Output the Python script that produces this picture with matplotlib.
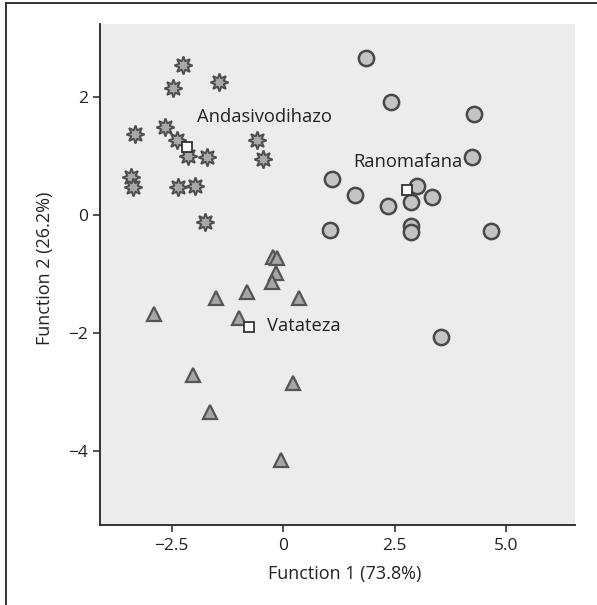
import matplotlib
matplotlib.use("Agg")
import matplotlib.pyplot as plt
from matplotlib.lines import Line2D

# discriminant scores per site (Function 1, Function 2)
andasivodihazo_x = [-2.24, -1.44, -2.47, -3.33, -2.65, -2.39, -2.13, -1.71, -0.58,
                    -0.45, -3.42, -3.38, -2.35, -1.97, -1.76]
andasivodihazo_y = [2.54, 2.26, 2.15, 1.38, 1.49, 1.27, 1.00, 0.98, 1.27,
                    0.95, 0.65, 0.47, 0.48, 0.50, -0.11]

ranomafana_x = [1.85, 2.42, 4.29, 4.24, 1.09, 1.61, 3.01, 3.33, 2.87, 2.35,
                1.05, 2.87, 2.87, 4.66, 3.55]
ranomafana_y = [2.67, 1.92, 1.71, 0.98, 0.61, 0.34, 0.50, 0.31, 0.22, 0.15,
                -0.25, -0.18, -0.28, -0.27, -2.06]

vatateza_x = [-0.22, -0.13, -0.17, -0.24, -0.82, -1.51, 0.36, -2.89, -0.99,
              -2.02, 0.22, -1.64, -0.05]
vatateza_y = [-0.71, -0.72, -0.98, -1.13, -1.30, -1.40, -1.40, -1.68, -1.75,
              -2.70, -2.84, -3.34, -4.15]

# group centroids
centroid_x = [-2.15, 2.79, -0.77]
centroid_y = [1.15, 0.42, -1.89]
site_names = ["Andasivodihazo", "Ranomafana", "Vatateza"]
label_pos = [(-1.94, 1.67), (1.57, 0.90), (-0.37, -1.88)]

xticks = [-2.5, 0, 2.5, 5.0]
xticklabels = ["\u22122.5", "0", "2.5", "5.0"]
yticks = [-4, -2, 0, 2]
yticklabels = ["\u22124", "\u22122", "0", "2"]

plt.rcParams["font.family"] = ["Open Sans", "DejaVu Sans"]

fig = plt.figure(figsize=(5.97, 6.05), dpi=100)
ax = fig.add_axes([0.1683, 0.1322, 0.7948, 0.8281])
ax.set_facecolor("#ececec")

ax.plot(andasivodihazo_x, andasivodihazo_y, ls="none", marker=(8, 1, 0), ms=13,
        mfc="#a8a8a8", mec="#4e4e4e", mew=1.4)
ax.plot(ranomafana_x, ranomafana_y, ls="none", marker="o", ms=11,
        mfc="#c4c4c4", mec="#484848", mew=1.8)
ax.plot(vatateza_x, vatateza_y, ls="none", marker="^", ms=10,
        mfc="#a6a6a6", mec="#555555", mew=1.6)
ax.plot(centroid_x, centroid_y, ls="none", marker="s", ms=7.5,
        mfc="white", mec="#333333", mew=1.3)

for name, (tx, ty) in zip(site_names, label_pos):
    ax.text(tx, ty, name, fontsize=13.2, color="#222222", ha="left", va="center")

ax.set_xlim(-4.1, 6.55)
ax.set_ylim(-5.25, 3.24)
ax.set_xticks(xticks)
ax.set_xticklabels(xticklabels)
ax.set_yticks(yticks)
ax.set_yticklabels(yticklabels)
ax.tick_params(axis="both", length=5, width=1.2, color="#333333",
               labelsize=12.5, labelcolor="#222222", pad=4)

for s in ["top", "right"]:
    ax.spines[s].set_visible(False)
for s in ["left", "bottom"]:
    ax.spines[s].set_color("#333333")
    ax.spines[s].set_linewidth(1.4)

ax.set_xlabel("Function 1 (73.8%)", fontsize=13, color="#222222")
ax.set_ylabel("Function 2 (26.2%)", fontsize=13, color="#222222")
ax.xaxis.set_label_coords(0.515, -0.08)
ax.yaxis.set_label_coords(-0.098, 0.513)

# outer frame (only left and top edges visible in the crop)
fig.add_artist(Line2D([0.0105, 0.0105], [0.0, 0.9955], transform=fig.transFigure,
                      color="#333333", lw=1.4))
fig.add_artist(Line2D([0.0105, 1.0], [0.9955, 0.9955], transform=fig.transFigure,
                      color="#333333", lw=1.4))

fig.savefig("out.png", dpi=100)
